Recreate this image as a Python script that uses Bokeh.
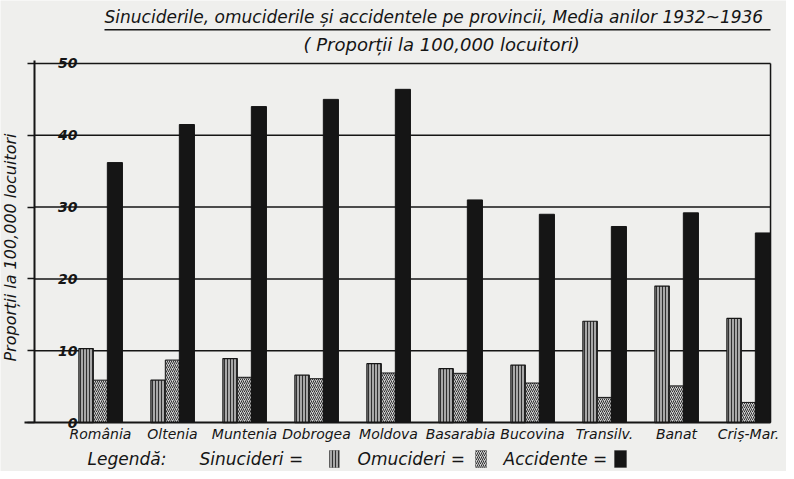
import numpy as np
from bokeh.plotting import figure
from bokeh.models import (ColumnDataSource, Range1d, FixedTicker, Label, BoxAnnotation,
                          LinearAxis)
from bokeh.transform import dodge
from bokeh.embed import file_html
from bokeh.resources import INLINE

categories = ["România", "Oltenia", "Muntenia", "Dobrogea", "Moldova",
              "Basarabia", "Bucovina", "Transilv.", "Banat", "Criș-Mar."]
sinucideri = [10.3, 5.9, 8.9, 6.6, 8.2, 7.5, 8.0, 14.1, 19.0, 14.5]
omucideri = [5.9, 8.7, 6.3, 6.1, 6.9, 6.85, 5.5, 3.5, 5.1, 2.8]
accidente = [36.2, 41.5, 44.0, 45.0, 46.4, 31.0, 29.0, 27.3, 29.2, 26.4]
y_ticks = [0, 10, 20, 30, 40, 50]

title_text = "Sinuciderile, omuciderile și accidentele pe provincii, Media anilor 1932~1936"
subtitle_text = "( Proporții la  100,000 locuitori)"
ylabel_text = "Proporții la 100,000 locuitori"

BG = "#efefed"
INK = "#151515"
FONT = "DejaVu Sans"

# chart area limits (in data units); the frame spans the whole canvas
X_LEFT, X_RIGHT = -0.9167, 9.306
Y_TOP = 50

idx = list(range(len(categories)))
src = ColumnDataSource(dict(x=idx, s=sinucideri, o=omucideri, a=accidente))

p = figure(width=786, height=471, x_range=Range1d(-1.3889, 9.5278), y_range=Range1d(-6.82, 58.77),
           output_backend="svg", toolbar_location=None,
           x_axis_location=None, y_axis_location=None,
           min_border=0, min_border_left=0, min_border_right=0,
           min_border_top=0, min_border_bottom=0)
p.background_fill_color = BG
p.border_fill_color = BG
p.outline_line_color = None
p.xgrid.visible = False
p.ygrid.visible = False

# horizontal rules at the ticks (grid) and the right frame edge
grid_src = ColumnDataSource(dict(y=y_ticks[1:], x0=[X_LEFT] * 5, x1=[X_RIGHT] * 5))
p.segment(x0="x0", x1="x1", y0="y", y1="y", source=grid_src, line_color=INK, line_width=1.5)
p.segment(x0=[X_RIGHT], x1=[X_RIGHT], y0=[0], y1=[Y_TOP], line_color=INK, line_width=1.5)

p.vbar(x=dodge("x", -0.2, range=p.x_range), top="s", width=0.2, source=src,
       fill_color="#a8a8a8", hatch_pattern="vertical_line", hatch_color="#303030",
       hatch_scale=3, hatch_weight=1, line_color=INK, line_width=1.2)
p.vbar(x=dodge("x", 0.0, range=p.x_range), top="o", width=0.2, source=src,
       fill_color="#d0d0d0", hatch_pattern="right_diagonal_line", hatch_color="#303030",
       hatch_scale=4, hatch_weight=1, line_color=INK, line_width=1.0)
p.vbar(x=dodge("x", 0.2, range=p.x_range), top="a", width=0.21, source=src,
       fill_color=INK, line_color=INK)

# y axis
yax = LinearAxis(fixed_location=X_LEFT, bounds=(0, 50.4), ticker=FixedTicker(ticks=y_ticks))
yax.axis_line_width = 2
yax.axis_line_color = INK
yax.major_tick_out = 7
yax.major_tick_in = 0
yax.major_tick_line_width = 1.5
yax.major_tick_line_color = INK
yax.minor_tick_line_color = None
yax.major_label_standoff = -50
yax.major_label_text_font = FONT
yax.major_label_text_font_style = "bold italic"
yax.major_label_text_font_size = "14px"
yax.major_label_text_color = INK
p.add_layout(yax, "left")

# x axis
xax = LinearAxis(fixed_location=0, bounds=(-1.0556, X_RIGHT), ticker=FixedTicker(ticks=idx))
xax.major_label_overrides = {i: c for i, c in zip(idx, categories)}
xax.axis_line_width = 2.2
xax.axis_line_color = INK
xax.major_tick_out = 0
xax.major_tick_in = 0
xax.minor_tick_line_color = None
xax.major_label_standoff = 3
xax.major_label_text_font = FONT
xax.major_label_text_font_style = "italic"
xax.major_label_text_font_size = "14px"
xax.major_label_text_color = INK
p.add_layout(xax, "below")

# title, subtitle, y label (screen units from the frame's bottom-left)
p.add_layout(Label(x=104, y=455, x_units="screen", y_units="screen", text=title_text,
                   text_font=FONT, text_font_style="italic", text_font_size="17px",
                   text_baseline="middle", text_color=INK))
p.add_layout(BoxAnnotation(left=104, right=770, bottom=441, top=442.5,
                           left_units="screen", right_units="screen",
                           bottom_units="screen", top_units="screen",
                           fill_color=INK, fill_alpha=1, line_color=None))
p.add_layout(Label(x=444, y=427, x_units="screen", y_units="screen", text=subtitle_text,
                   text_font=FONT, text_font_style="italic", text_font_size="18px",
                   text_align="center", text_baseline="middle", text_color=INK))
p.add_layout(Label(x=10, y=224, x_units="screen", y_units="screen", text=ylabel_text,
                   angle=np.pi / 2, text_font=FONT, text_font_style="italic",
                   text_font_size="16px", text_align="center", text_baseline="middle",
                   text_color=INK))

# legend line
legend_y = 13
for txt, xx in [("Legendă:", 87), ("Sinucideri =", 199), ("Omucideri =", 357), ("Accidente =", 503)]:
    p.add_layout(Label(x=xx, y=legend_y, x_units="screen", y_units="screen", text=txt,
                       text_font=FONT, text_font_style="italic", text_font_size="17px",
                       text_baseline="middle", text_color=INK))
for (l, r), kw in [((329, 339), dict(fill_color="#a8a8a8", hatch_pattern="vertical_line", hatch_scale=3)),
                   ((475, 486), dict(fill_color="#d0d0d0", hatch_pattern="right_diagonal_line", hatch_scale=4)),
                   ((614, 626), dict(fill_color=INK))]:
    p.add_layout(BoxAnnotation(left=l, right=r, bottom=4, top=21,
                               left_units="screen", right_units="screen",
                               bottom_units="screen", top_units="screen",
                               fill_alpha=1, line_color=INK, line_width=1,
                               hatch_color="#303030", **kw))

open("out.html", "w").write(file_html(p, INLINE))
